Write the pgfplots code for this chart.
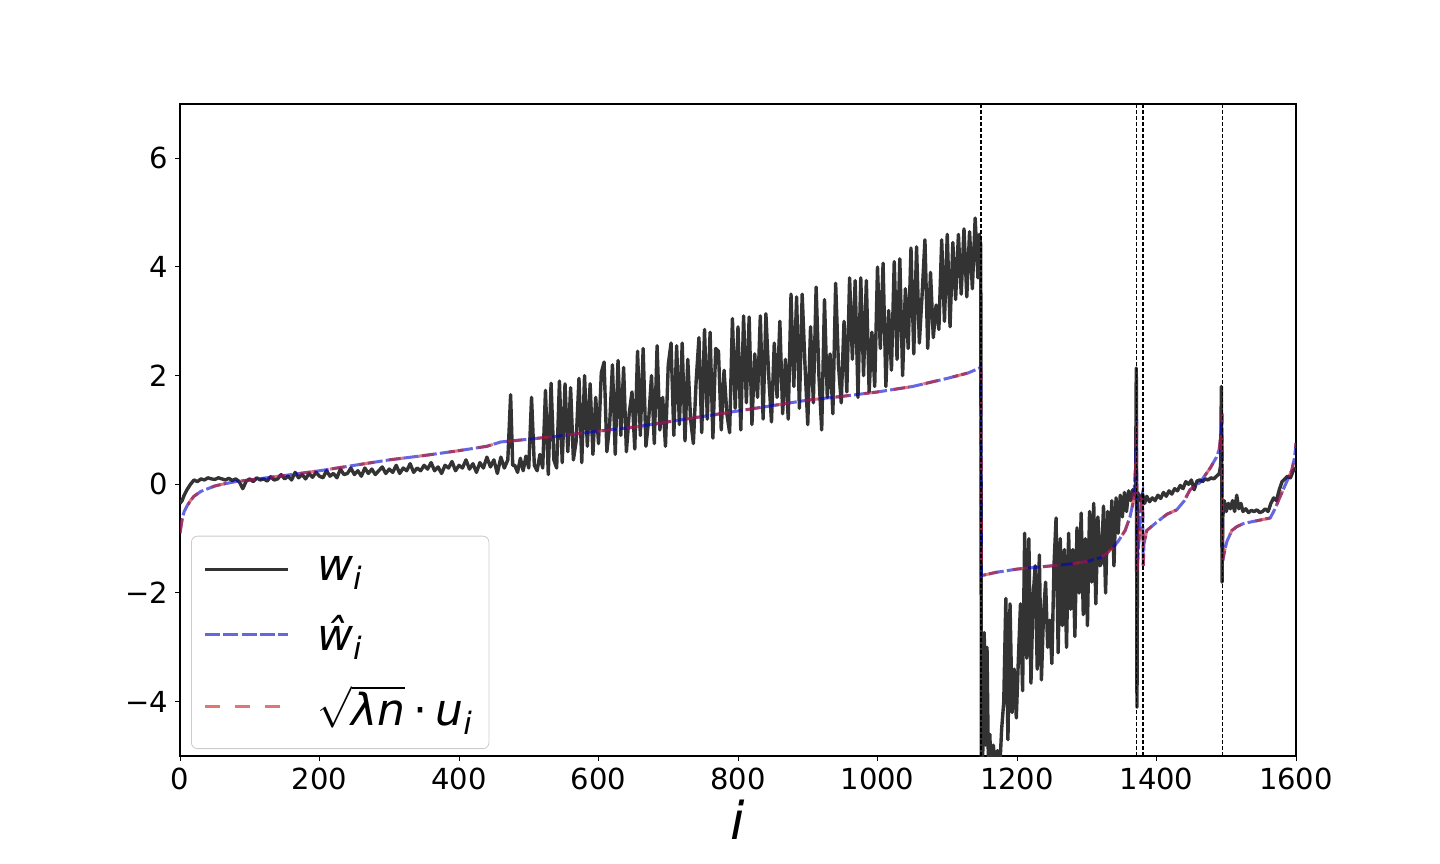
\documentclass[border=0pt]{standalone}
\usepackage{fontspec}
\setmainfont{DejaVu Sans}
\usepackage{pgfplots}
\usepackage{pgfplotstable}
\pgfplotsset{compat=1.18}

\definecolor{wblack}{RGB}{51,51,51}
\definecolor{hatblue}{RGB}{0,0,205}
\definecolor{ured}{RGB}{200,30,30}
\definecolor{legframe}{RGB}{204,204,204}

% fitted curve (same for w-hat and sqrt(lambda n) u)
\pgfplotstableread{
x y
0 -0.9
3 -0.65
6 -0.5
10 -0.4
15 -0.3
20 -0.22
30 -0.13
40 -0.08
50 -0.03
60 0.0
80 0.05
100 0.08
130 0.13
160 0.18
200 0.25
250 0.35
300 0.45
350 0.53
400 0.62
440 0.7
460 0.78
500 0.83
550 0.9
600 0.98
650 1.05
700 1.15
750 1.25
800 1.35
850 1.45
900 1.55
950 1.62
1000 1.7
1050 1.8
1100 1.95
1130 2.05
1148 2.15
1149 -1.68
1170 -1.62
1200 -1.56
1250 -1.5
1280 -1.46
1300 -1.42
1320 -1.35
1335 -1.2
1345 -1.05
1355 -0.85
1362 -0.6
1367 -0.3
1370 0.3
1371.5 1.2
1372 -1.6
1374 -1.2
1377 -0.6
1379 -0.2
1380 -0.15
1381 -1.5
1382 -1.1
1386 -0.85
1400 -0.7
1415 -0.55
1429 -0.47
1440 -0.3
1448 -0.1
1462 0.03
1477 0.3
1486 0.5
1490 0.65
1493 1.0
1494 1.3
1495 -1.4
1498 -1.2
1501 -1.05
1508 -0.85
1515 -0.78
1525 -0.72
1540 -0.68
1563 -0.62
1570 -0.45
1577 -0.23
1585 0.0
1594 0.26
1598 0.5
1600 0.76
}\fitdata

% noisy weights w_i
\pgfplotstableread{
x y
0 -0.35
3 -0.3
6 -0.2
10 -0.1
15 0.0
20 0.08
25 0.05
30 0.1
35 0.08
40 0.12
45 0.1
50 0.09
55 0.12
60 0.1
65 0.08
70 0.11
75 0.07
80 0.1
85 0.05
90 -0.08
95 0.06
100 0.1
105 0.05
110 0.12
115 0.08
120 0.1
125 0.06
130 0.14
135 0.08
140 0.1
145 0.18
150 0.1
155 0.15
160 0.08
165 0.22
170 0.12
175 0.18
180 0.1
185 0.2
190 0.13
195 0.22
200 0.15
205 0.12
210 0.25
215 0.15
220 0.2
225 0.12
230 0.28
235 0.18
240 0.2
245 0.3
250 0.18
255 0.25
260 0.15
265 0.3
270 0.2
275 0.28
280 0.18
285 0.25
290 0.32
295 0.2
300 0.28
305 0.22
310 0.35
315 0.2
320 0.3
325 0.25
330 0.38
335 0.22
340 0.3
345 0.25
350 0.35
355 0.28
360 0.4
365 0.25
370 0.32
375 0.2
380 0.35
385 0.3
390 0.42
395 0.25
400 0.35
405 0.3
410 0.45
415 0.28
420 0.38
425 0.22
430 0.4
435 0.3
440 0.5
445 0.32
450 0.45
455 0.2
460 0.5
465 0.3
470 0.45
474 1.65
477 0.35
480 0.35
484 0.22
488 0.48
492 0.25
496 0.52
500 0.3
504 1.6
508 0.35
512 0.25
516 0.55
520 0.3
524 1.73
528 0.18
532 1.86
536 0.45
540 0.3
544 1.9
548 0.4
552 1.85
556 0.6
560 1.78
564 0.45
568 0.8
572 1.95
576 0.4
580 2.0
584 0.7
588 1.85
592 0.55
596 1.6
600 0.75
604 2.05
608 2.25
612 0.6
616 1.1
620 2.2
624 0.55
628 2.28
632 0.9
636 2.15
640 0.6
644 1.3
648 1.7
652 0.65
656 2.45
660 0.9
664 2.5
668 0.7
672 1.2
676 2.0
680 0.75
684 2.55
688 1.0
692 1.6
696 0.7
700 2.2
704 2.6
708 0.9
712 2.55
716 1.1
720 2.6
724 0.8
728 2.3
732 1.2
736 0.75
740 1.9
744 2.7
748 0.95
752 2.85
756 1.2
760 2.8
764 0.85
768 2.5
772 2.45
776 1.0
780 2.1
784 1.3
788 0.95
792 3.05
796 1.4
800 2.9
804 1.0
808 3.1
812 1.5
816 3.08
820 1.1
824 2.4
828 1.6
832 3.1
836 1.2
840 3.14
844 2.0
848 1.15
852 2.6
856 1.6
860 3.0
864 1.3
868 2.3
872 1.2
876 3.5
880 1.8
884 3.45
888 1.4
892 3.5
896 2.2
900 1.1
904 2.9
908 1.5
912 3.63
916 2.0
920 1.0
924 3.4
928 1.6
932 2.4
936 1.3
940 3.7
944 2.2
948 1.5
952 3.0
956 1.7
960 3.8
964 2.3
968 3.75
972 1.6
976 3.8
980 2.0
984 3.75
988 1.7
992 2.8
996 1.8
1000 4.0
1004 2.5
1008 4.07
1012 1.8
1016 3.2
1020 2.1
1024 4.1
1028 2.3
1032 4.15
1036 2.0
1040 3.6
1044 2.5
1048 4.35
1052 2.4
1056 4.37
1060 2.6
1064 3.5
1068 4.5
1072 2.5
1076 3.9
1080 2.7
1084 3.3
1088 2.85
1092 4.5
1096 3.0
1100 4.6
1104 2.9
1108 4.45
1112 3.4
1116 4.6
1120 3.5
1124 4.7
1128 3.45
1132 4.65
1136 3.6
1140 4.9
1144 3.8
1146 4.6
1148 4.4
1149 -5.3
1151 -4.9
1153 -2.73
1155 -4.8
1157 -3.0
1159 -5.2
1161 -4.6
1163 -5.3
1166 -4.8
1169 -5.2
1172 -4.9
1175 -5.3
1178 -4.5
1181 -4.0
1184 -2.1
1187 -4.7
1190 -2.2
1193 -4.2
1196 -3.4
1199 -4.3
1202 -3.2
1205 -2.2
1208 -3.8
1211 -0.9
1214 -3.2
1217 -1.0
1220 -3.66
1223 -2.1
1226 -1.5
1229 -3.4
1232 -1.3
1235 -3.6
1238 -2.4
1241 -1.8
1244 -3.0
1247 -2.5
1250 -3.3
1253 -1.5
1256 -0.62
1259 -3.1
1262 -1.0
1265 -2.6
1268 -1.2
1271 -3.0
1274 -0.9
1277 -2.3
1280 -1.2
1283 -2.8
1286 -0.8
1289 -2.0
1292 -0.53
1295 -2.4
1298 -1.0
1301 -2.6
1304 -0.5
1307 -1.8
1310 -0.35
1313 -2.2
1316 -0.6
1319 -1.5
1321 -1.45
1324 -0.4
1327 -2.0
1330 -0.5
1333 -1.2
1336 -0.3
1339 -1.5
1342 -0.25
1345 -0.9
1348 -0.2
1351 -0.6
1354 -0.15
1357 -0.5
1360 -0.12
1363 -0.3
1366 -0.1
1369 -0.2
1370 -0.12
1371 2.14
1372 -4.1
1373 -0.15
1377 -0.3
1380 -0.18
1383 -0.35
1386 -0.22
1390 -0.32
1394 -0.25
1398 -0.3
1402 -0.2
1406 -0.26
1410 -0.15
1414 -0.22
1418 -0.12
1422 -0.18
1426 -0.08
1430 -0.12
1434 -0.02
1438 -0.08
1442 0.05
1446 0.0
1450 0.08
1454 -0.1
1458 0.06
1462 0.08
1466 0.05
1470 0.1
1474 0.08
1478 0.12
1482 0.1
1486 0.15
1490 0.2
1492 0.35
1493 1.8
1494 -1.8
1495 -0.6
1497 -0.3
1500 -0.5
1503 -0.35
1506 -0.45
1509 -0.3
1512 -0.5
1515 -0.2
1518 -0.45
1521 -0.35
1524 -0.5
1528 -0.45
1532 -0.52
1536 -0.48
1540 -0.5
1544 -0.47
1548 -0.52
1552 -0.5
1556 -0.45
1560 -0.5
1564 -0.35
1568 -0.25
1572 -0.3
1576 -0.1
1580 0.05
1584 0.1
1588 0.15
1592 0.12
1596 0.25
1600 0.3
}\wdata

\begin{document}
\begin{tikzpicture}
\path[use as bounding box] (-90bp,-54bp) rectangle (630bp,378bp);
\begin{axis}[at={(0,0)}, anchor=south west, scale only axis,
             width=558bp, height=326bp,
             xmin=0, xmax=1600, ymin=-5, ymax=7,
             xtick={0,200,...,1600},
             ytick={-4,-2,0,2,4,6},
             yticklabels={−4,−2,0,2,4,6},
             xtick pos=bottom, ytick pos=left,
             tick align=outside, major tick length=2.5bp,
             tick style={black, line width=0.5bp},
             axis line style={line width=0.6bp},
             /pgf/number format/assume math mode=true,
             /pgf/number format/1000 sep={},
             ticklabel style={font=\fontsize{14.5bp}{17bp}\selectfont},
             xlabel={\textit{i}},
             xlabel style={font=\fontsize{26bp}{30bp}\selectfont, yshift=2bp},
             legend cell align=left,
             legend image code/.code={\draw[#1] (0bp,0bp) -- (41.5bp,0bp);
                                      \path[draw=none] (0bp,0bp) (54bp,0bp);},
             legend style={at={(0.0099,0.0107)}, anchor=south west,
                           draw=legframe, rounded corners=3bp, fill=white,
                           font=\fontsize{22bp}{26bp}\selectfont,
                           inner xsep=6bp, inner ysep=8bp, row sep=12bp}]
\addplot[wblack, line width=1.7bp, line join=round] table {\wdata};
\addlegendentry{\textit{w}\textsubscript{\textit{i}}}
\addplot[hatblue, opacity=0.6, line width=1.5bp, dash pattern=on 7.5bp off 1.6bp] table {\fitdata};
\addlegendentry{\textit{ŵ}\textsubscript{\textit{i}}}
\addplot[ured, opacity=0.6, line width=1.5bp, dash pattern=on 7.5bp off 7.5bp] table {\fitdata};
\addlegendentry{$\sqrt{\hbox{\textit{λn}}}$\hspace{4bp}·\hspace{4bp}\textit{u}\textsubscript{\textit{i}}}
\addplot[forget plot, black, line width=0.7bp, dash pattern=on 2bp off 1bp] coordinates {(1148.5,-5) (1148.5,7)};
\addplot[forget plot, black, line width=0.7bp, dash pattern=on 2bp off 1bp] coordinates {(1371.5,-5) (1371.5,7)};
\addplot[forget plot, black, line width=0.7bp, dash pattern=on 2bp off 1bp] coordinates {(1380.5,-5) (1380.5,7)};
\addplot[forget plot, black, line width=0.7bp, dash pattern=on 2bp off 1bp] coordinates {(1494.5,-5) (1494.5,7)};
\end{axis}
\end{tikzpicture}
\end{document}
